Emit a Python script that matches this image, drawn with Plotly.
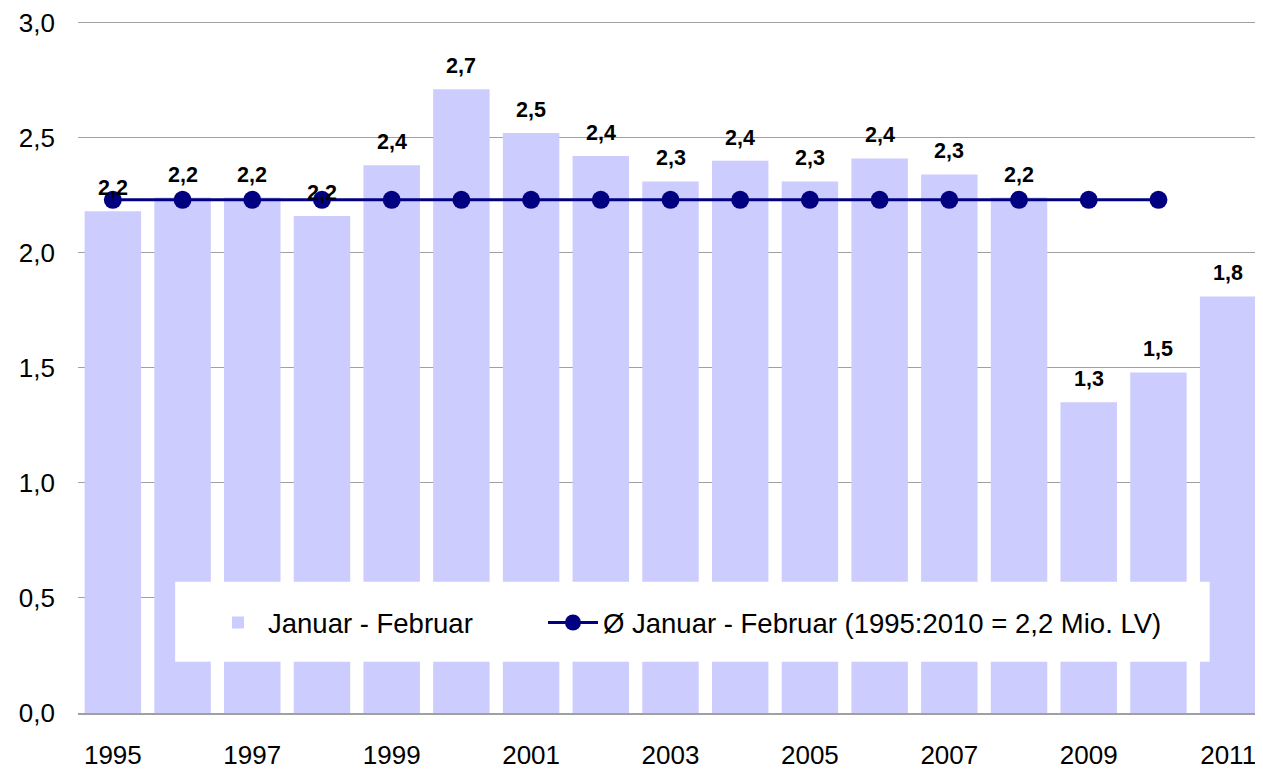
import plotly.graph_objects as go

years = list(range(1995, 2012))
values = [2.18, 2.24, 2.24, 2.16, 2.38, 2.71, 2.52, 2.42, 2.31, 2.40, 2.31, 2.41, 2.34, 2.24, 1.35, 1.48, 1.81]
labels = ["2,2", "2,2", "2,2", "2,2", "2,4", "2,7", "2,5", "2,4", "2,3", "2,4", "2,3", "2,4", "2,3", "2,2", "1,3", "1,5", "1,8"]
avg_years = list(range(1995, 2011))
avg_values = [2.23] * len(avg_years)
y_ticks = [0, 0.5, 1.0, 1.5, 2.0, 2.5, 3.0]

bar_name = "Januar - Februar"
line_name = "Ø Januar - Februar (1995:2010 = 2,2 Mio. LV)"

FONT = "Liberation Sans, Arial, sans-serif"

fig = go.Figure()
fig.add_trace(go.Bar(
    x=years, y=values, name=bar_name, legend="legend",
    marker=dict(color="#CCCCFF", line=dict(width=0)),
))
fig.add_trace(go.Scatter(
    x=avg_years, y=avg_values, name=line_name, mode="lines+markers", legend="legend2",
    line=dict(color="#000080", width=3),
    marker=dict(color="#000080", size=18),
))

for x, v, t in zip(years, values, labels):
    fig.add_annotation(x=x, y=v, text="<b>%s</b>" % t, showarrow=False,
                       yanchor="bottom", yshift=9,
                       font=dict(family=FONT, size=21.5, color="black"))

fig.add_shape(type="rect", xref="paper", yref="paper",
              x0=0.082, x1=0.955, y0=0.0737, y1=0.189,
              fillcolor="white", line=dict(width=0), layer="above")

fig.update_layout(
    width=1255, height=762,
    margin=dict(l=70, r=0, t=9, b=56),
    plot_bgcolor="white", paper_bgcolor="white",
    separators=",.",
    bargap=0.19,
    font=dict(family=FONT, size=24, color="black"),
    showlegend=True,
    legend=dict(orientation="h", x=0.1097, y=0.130, xanchor="left", yanchor="middle",
                bgcolor="rgba(0,0,0,0)", font=dict(size=27.5), itemwidth=50),
    legend2=dict(orientation="h", x=0.3924, y=0.130, xanchor="left", yanchor="middle",
                 bgcolor="rgba(0,0,0,0)", font=dict(size=27.5), itemwidth=50),
    xaxis=dict(tickmode="linear", tick0=1995, dtick=2, range=[1994.5, 2011.5],
               showgrid=False, showline=True, linecolor="#A0A0A0", linewidth=2,
               ticks="", ticklabelstandoff=18, tickfont=dict(size=26)),
    yaxis=dict(range=[0, 3.02], tickmode="array",
               tickvals=y_ticks, tickformat=".1f", ticklabeloverflow="allow",
               showgrid=True, gridcolor="#A0A0A0", gridwidth=1, zeroline=False,
               showline=False, ticks="", ticklabelstandoff=22, tickfont=dict(size=26)),
)

fig.write_html("out.html")
